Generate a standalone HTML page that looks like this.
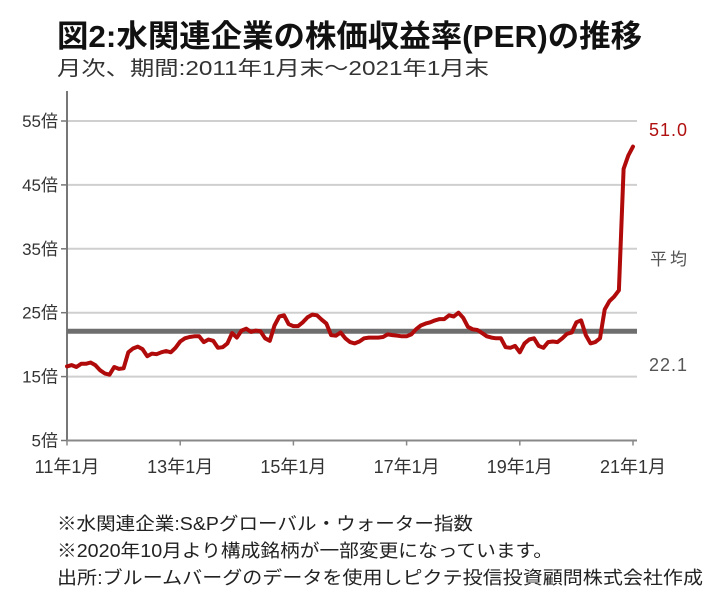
<!DOCTYPE html>
<html><head><meta charset="utf-8"><style>
html,body{margin:0;padding:0;background:#fff;}
svg{display:block;font-family:"Liberation Sans","Noto Sans CJK JP",sans-serif;}
</style></head><body>
<svg id="chart" width="713" height="611" viewBox="0 0 713 611">
<text x="57" y="47" font-size="31" font-weight="bold" fill="#111" textLength="585" lengthAdjust="spacingAndGlyphs">図2:水関連企業の株価収益率(PER)の推移</text>
<text x="57" y="75" font-size="20" fill="#333" textLength="432" lengthAdjust="spacingAndGlyphs">月次、期間:2011年1月末～2021年1月末</text>
<g id="grid"></g>
<g id="yticks"></g>
<g id="xticks"></g>
<g id="series"></g>
<text x="649" y="136" font-size="18" fill="#b01010" letter-spacing="1">51.0</text>
<text x="650" y="265" font-size="17" fill="#555" letter-spacing="3">平均</text>
<text x="649" y="371" font-size="18" fill="#555" letter-spacing="1">22.1</text>
<g font-size="18" fill="#222">
<text x="57" y="530" textLength="416" lengthAdjust="spacingAndGlyphs">※水関連企業:S&amp;Pグローバル・ウォーター指数</text>
<text x="57" y="557" textLength="496" lengthAdjust="spacingAndGlyphs">※2020年10月より構成銘柄が一部変更になっています。</text>
<text x="57" y="584" textLength="646" lengthAdjust="spacingAndGlyphs">出所:ブルームバーグのデータを使用しピクテ投信投資顧問株式会社作成</text>
</g>
</svg>
<script>
const yTicks=[5,15,25,35,45,55];
const xTickLabels=["11年1月","13年1月","15年1月","17年1月","19年1月","21年1月"];
const xTickMonths=[0,24,48,72,96,120];
const average=22.1;
const perValues=[16.6,16.8,16.5,17.0,17.0,17.2,16.8,16.0,15.5,15.3,16.5,16.2,16.3,18.8,19.4,19.7,19.3,18.2,18.6,18.5,
18.8,19.0,18.8,19.5,20.5,21.0,21.2,21.3,21.3,20.4,20.8,20.6,19.5,19.6,20.2,21.8,21.1,22.2,22.5,22.0,
22.2,22.1,21.0,20.6,23.0,24.4,24.6,23.2,22.9,22.9,23.5,24.3,24.7,24.6,23.9,23.3,21.5,21.4,21.9,21.0,
20.4,20.2,20.5,21.0,21.1,21.1,21.1,21.2,21.6,21.5,21.4,21.3,21.3,21.6,22.4,23.0,23.3,23.5,23.8,24.0,
24.0,24.6,24.4,25.0,24.2,22.8,22.4,22.3,21.8,21.3,21.1,21.0,21.0,19.6,19.5,19.8,18.8,20.2,20.8,21.0,
19.8,19.5,20.4,20.5,20.4,21.0,21.7,21.9,23.5,23.8,21.5,20.2,20.4,21.0,25.5,26.8,27.5,28.5,47.5,49.6,51.0];
const NS="http://www.w3.org/2000/svg";
const X0=67,X1=633,Y0=440.5,Y1=121;
function xs(m){return X0+(X1-X0)*m/120;}
function ys(v){return Y0-(Y0-Y1)*(v-5)/50;}
function mk(tag,attrs,parent){const e=document.createElementNS(NS,tag);for(const k in attrs)e.setAttribute(k,attrs[k]);parent.appendChild(e);return e;}
const grid=document.getElementById('grid'),yg=document.getElementById('yticks'),xg=document.getElementById('xticks'),sg=document.getElementById('series');
yTicks.forEach(v=>{
  if(v>5){const l=mk('line',{x1:X0,x2:637,y1:ys(v),y2:ys(v),stroke:'#cfcfcf','stroke-width':2},grid);
  
  }
  const t=mk('line',{x1:X0-6,x2:X0,y1:ys(v),y2:ys(v),stroke:'#777','stroke-width':1.5},yg);
  
  
  const tx=mk('text',{x:X0-9,y:ys(v)+6,'text-anchor':'end','font-size':17,fill:'#333'},yg);
  tx.textContent=v+'倍';
  
  
});
const ax=mk('line',{x1:X0,x2:X0,y1:91,y2:Y0+1,stroke:'#777','stroke-width':2},yg);


const bx=mk('line',{x1:X0,x2:637,y1:Y0,y2:Y0,stroke:'#888','stroke-width':2},xg);


xTickMonths.forEach((m,i)=>{
  const t=mk('line',{x1:xs(m),x2:xs(m),y1:Y0,y2:Y0+5,stroke:'#888','stroke-width':1.5},xg);
  
  
  const tx=mk('text',{x:xs(m),y:473,'text-anchor':'middle','font-size':18,fill:'#333'},xg);
  tx.textContent=xTickLabels[i];
  
  
});
const avg=mk('line',{x1:X0,x2:637,y1:ys(average),y2:ys(average),stroke:'#6e6e6e','stroke-width':5},sg);


const pts=perValues.map((v,i)=>xs(i).toFixed(1)+','+ys(v).toFixed(1)).join(' ');
const pl=mk('polyline',{points:pts,fill:'none',stroke:'#b00a0a','stroke-width':4,'stroke-linejoin':'round','stroke-linecap':'round'},sg);


</script>
</body></html>
